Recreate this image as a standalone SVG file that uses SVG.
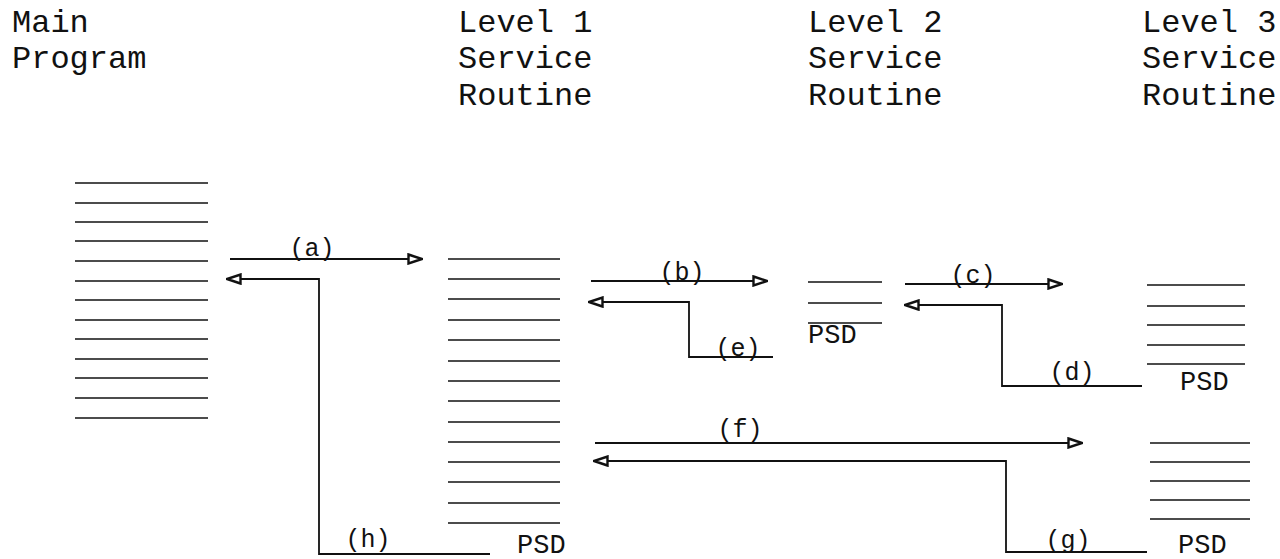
<svg xmlns="http://www.w3.org/2000/svg" width="1280" height="559" viewBox="0 0 1280 559">
<defs>
<style>
.hdr{font-family:"Liberation Mono","Courier New",monospace;font-size:32px;fill:#111}
.lbl{font-family:"Liberation Mono","Courier New",monospace;font-size:25px;fill:#111}
.psd{font-family:"Liberation Mono","Courier New",monospace;font-size:27px;fill:#111}
.stk line{stroke:#111;stroke-width:1.6}
.con path{fill:none;stroke:#111;stroke-width:1.8}
</style>
<marker id="ah" viewBox="0 0 16 12" refX="15" refY="6" markerWidth="16" markerHeight="12" markerUnits="userSpaceOnUse" orient="auto">
<path d="M1.5,1.5 L15,6 L1.5,10.5 Z" fill="#fff" stroke="#111" stroke-width="2.4"/>
</marker>
</defs>
<rect width="1280" height="559" fill="#fff"/>

<g id="headers">
<text class="hdr" x="12" y="32">Main</text>
<text class="hdr" x="12" y="68">Program</text>
<text class="hdr" x="458" y="32">Level 1</text>
<text class="hdr" x="458" y="68">Service</text>
<text class="hdr" x="458" y="105">Routine</text>
<text class="hdr" x="808" y="32">Level 2</text>
<text class="hdr" x="808" y="68">Service</text>
<text class="hdr" x="808" y="105">Routine</text>
<text class="hdr" x="1142" y="32">Level 3</text>
<text class="hdr" x="1142" y="68">Service</text>
<text class="hdr" x="1142" y="105">Routine</text>
</g>

<g id="main-program" class="stk">
<line x1="75" y1="183" x2="208" y2="183"/>
<line x1="75" y1="203" x2="208" y2="203"/>
<line x1="75" y1="222" x2="208" y2="222"/>
<line x1="75" y1="241" x2="208" y2="241"/>
<line x1="75" y1="261" x2="208" y2="261"/>
<line x1="75" y1="281" x2="208" y2="281"/>
<line x1="75" y1="300" x2="208" y2="300"/>
<line x1="75" y1="320" x2="208" y2="320"/>
<line x1="75" y1="339" x2="208" y2="339"/>
<line x1="75" y1="359" x2="208" y2="359"/>
<line x1="75" y1="378" x2="208" y2="378"/>
<line x1="75" y1="398" x2="208" y2="398"/>
<line x1="75" y1="418" x2="208" y2="418"/>
</g>

<g id="level1" class="stk">
<line x1="448" y1="259" x2="560" y2="259"/>
<line x1="448" y1="279" x2="560" y2="279"/>
<line x1="448" y1="299" x2="560" y2="299"/>
<line x1="448" y1="320" x2="560" y2="320"/>
<line x1="448" y1="340" x2="560" y2="340"/>
<line x1="448" y1="361" x2="560" y2="361"/>
<line x1="448" y1="381" x2="560" y2="381"/>
<line x1="448" y1="401" x2="560" y2="401"/>
<line x1="448" y1="422" x2="560" y2="422"/>
<line x1="448" y1="442" x2="560" y2="442"/>
<line x1="448" y1="462" x2="560" y2="462"/>
<line x1="448" y1="482" x2="560" y2="482"/>
<line x1="448" y1="503" x2="560" y2="503"/>
<line x1="448" y1="523" x2="560" y2="523"/>
<text class="psd" x="517" y="553">PSD</text>
</g>

<g id="level2" class="stk">
<line x1="808" y1="282" x2="882" y2="282"/>
<line x1="808" y1="303" x2="882" y2="303"/>
<line x1="808" y1="323" x2="882" y2="323"/>
<text class="psd" x="808" y="343">PSD</text>
</g>

<g id="level3-upper" class="stk">
<line x1="1147" y1="285" x2="1245" y2="285"/>
<line x1="1147" y1="306" x2="1245" y2="306"/>
<line x1="1147" y1="325" x2="1245" y2="325"/>
<line x1="1147" y1="345" x2="1245" y2="345"/>
<line x1="1147" y1="364" x2="1245" y2="364"/>
<text class="psd" x="1180" y="390">PSD</text>
</g>

<g id="level3-lower" class="stk">
<line x1="1150" y1="443" x2="1250" y2="443"/>
<line x1="1150" y1="462" x2="1250" y2="462"/>
<line x1="1150" y1="481" x2="1250" y2="481"/>
<line x1="1150" y1="500" x2="1250" y2="500"/>
<line x1="1150" y1="519" x2="1250" y2="519"/>
<text class="psd" x="1178" y="553">PSD</text>
</g>

<g id="connectors" class="con">
<path d="M230,259 H422" marker-end="url(#ah)"/>
<path d="M490,554 H319 V279 H227" marker-end="url(#ah)"/>
<path d="M591,281 H767" marker-end="url(#ah)"/>
<path d="M773,357 H689 V302 H589" marker-end="url(#ah)"/>
<path d="M905,284 H1062" marker-end="url(#ah)"/>
<path d="M1142,386 H1002 V305 H905" marker-end="url(#ah)"/>
<path d="M595,443 H1082" marker-end="url(#ah)"/>
<path d="M1147,552 H1006 V461 H594" marker-end="url(#ah)"/>
</g>

<g id="labels">
<text class="lbl" x="312" y="256" text-anchor="middle">(a)</text>
<text class="lbl" x="682" y="280" text-anchor="middle">(b)</text>
<text class="lbl" x="973" y="283" text-anchor="middle">(c)</text>
<text class="lbl" x="1072" y="380" text-anchor="middle">(d)</text>
<text class="lbl" x="738" y="356" text-anchor="middle">(e)</text>
<text class="lbl" x="740" y="437" text-anchor="middle">(f)</text>
<text class="lbl" x="1068" y="548" text-anchor="middle">(g)</text>
<text class="lbl" x="368" y="547" text-anchor="middle">(h)</text>
</g>
</svg>
